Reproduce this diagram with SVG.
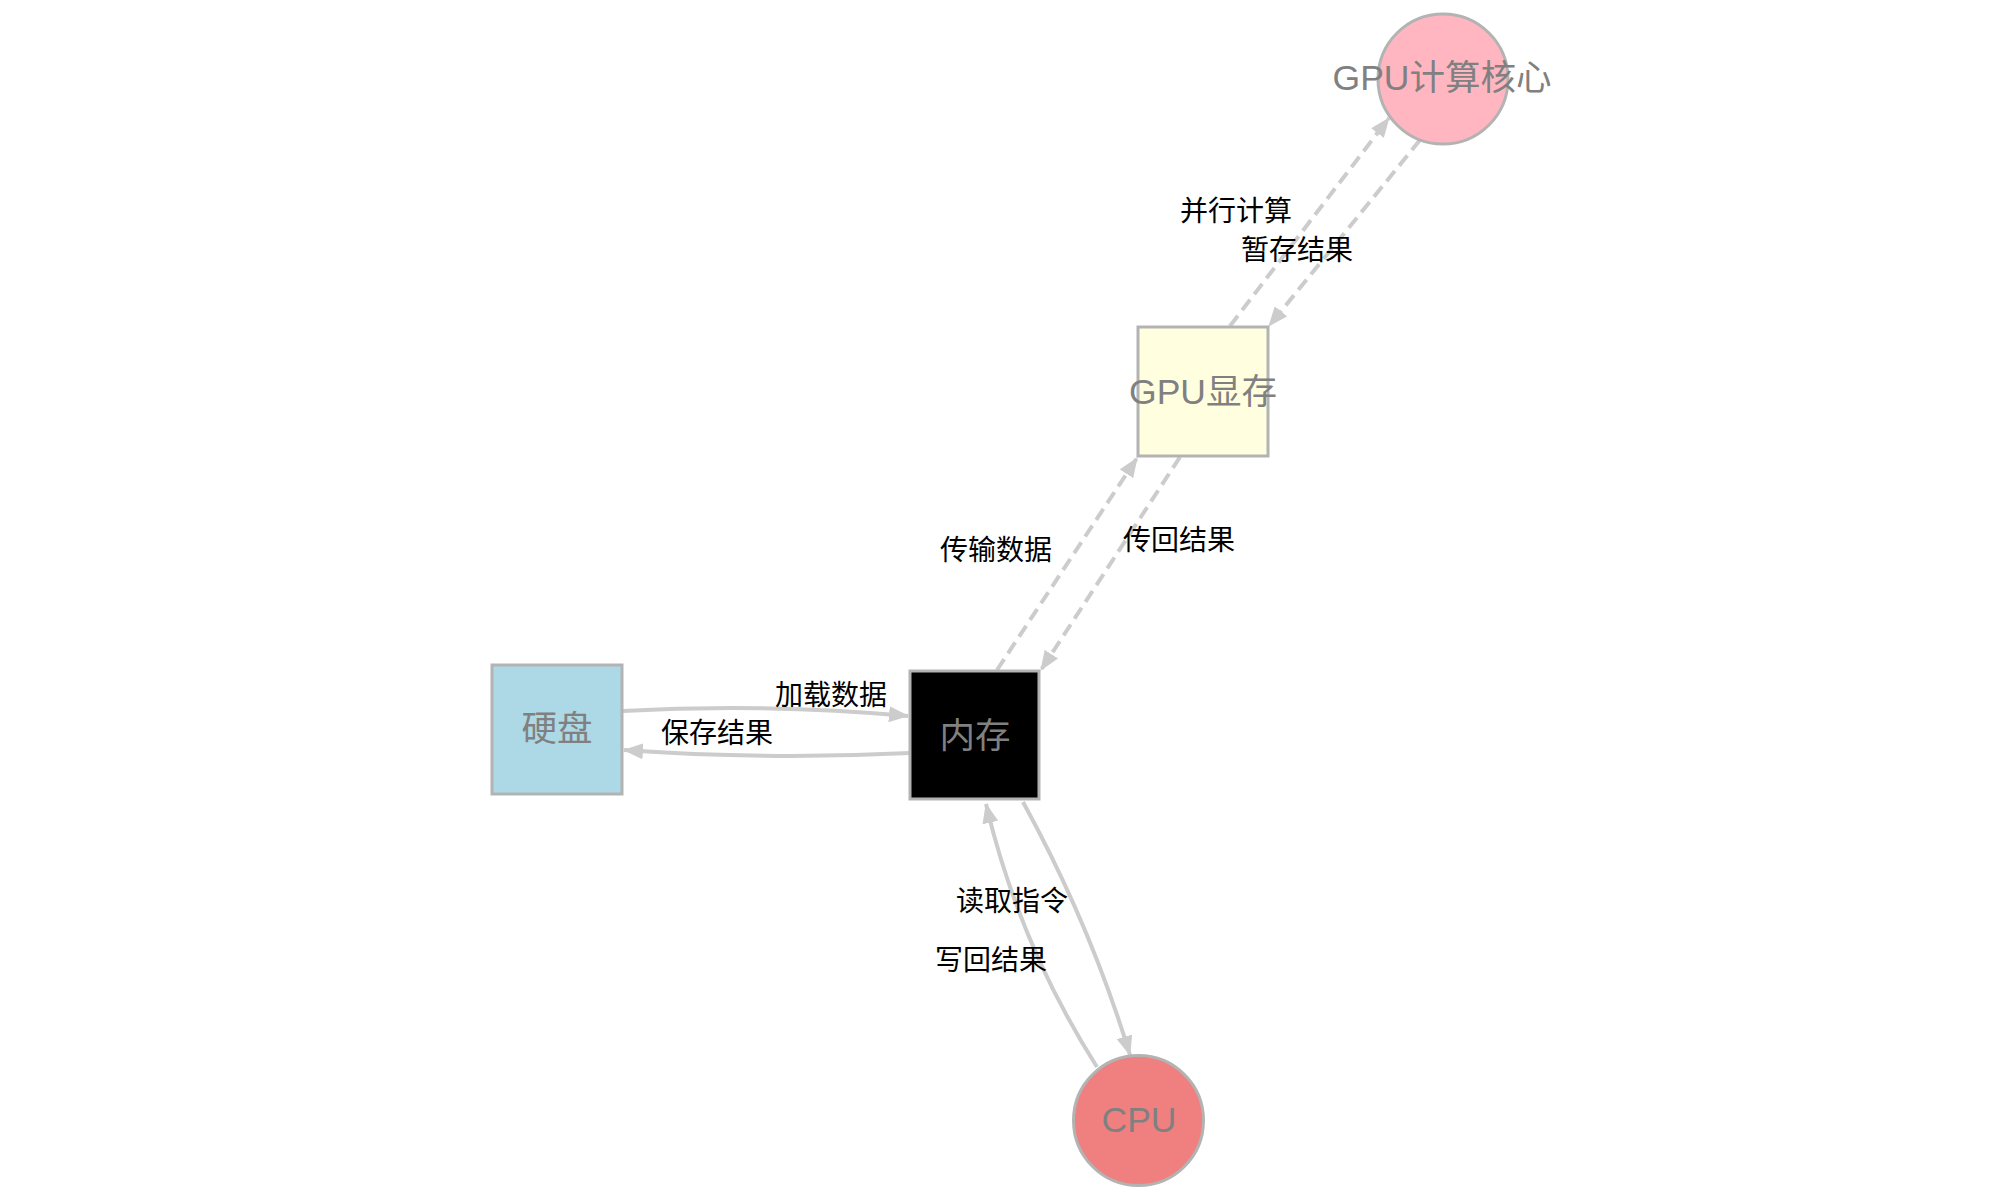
<svg xmlns="http://www.w3.org/2000/svg" width="2000" height="1200" viewBox="0 0 2000 1200">
<style>
.node{stroke:#b3b3b3;stroke-width:3}
.nlabel{font-family:"Liberation Sans","Noto Sans CJK SC",sans-serif;font-size:35.5px;fill:#808080;text-anchor:middle}
.elabel{font-family:"Liberation Sans","Noto Sans CJK SC",sans-serif;font-size:28px;fill:#000;text-anchor:middle}
.edge{fill:none;stroke:#cccccc;stroke-width:4}
.dash{stroke-dasharray:13,7}
</style>
<defs>
<marker id="arrow" viewBox="0 0 20 16" refX="19" refY="8" markerUnits="userSpaceOnUse" markerWidth="20" markerHeight="16" orient="auto">
<path d="M0,0 L20,8 L0,16 z" fill="#cccccc"/>
</marker>
</defs>
<rect width="2000" height="1200" fill="#ffffff"/>
<g id="connectors">
<path class="edge" d="M622,711 Q766,703 908,716" marker-end="url(#arrow)"/>
<path class="edge" d="M910,753 Q766,760 624,750" marker-end="url(#arrow)"/>
<path class="edge" d="M1023,802 Q1090,924 1130,1055" marker-end="url(#arrow)"/>
<path class="edge" d="M1097,1067 Q1019,944 986,804" marker-end="url(#arrow)"/>
<path class="edge dash" d="M997,670 L1137,458" marker-end="url(#arrow)"/>
<path class="edge dash" d="M1180,457 L1041,670" marker-end="url(#arrow)"/>
<path class="edge dash" d="M1230,326 L1389,118" marker-end="url(#arrow)"/>
<path class="edge dash" d="M1420,140 L1269,326" marker-end="url(#arrow)"/>
<text class="elabel" x="831" y="705">加载数据</text>
<text class="elabel" x="717" y="743">保存结果</text>
<text class="elabel" x="1012" y="911">读取指令</text>
<text class="elabel" x="991" y="970">写回结果</text>
<text class="elabel" x="996" y="560">传输数据</text>
<text class="elabel" x="1179" y="550">传回结果</text>
<text class="elabel" x="1236" y="221">并行计算</text>
<text class="elabel" x="1297" y="260">暂存结果</text>
</g>
<g id="node-gpu-core">
<circle class="node" cx="1443" cy="79" r="65" fill="#ffb6c1"/>
<text class="nlabel" x="1442" y="90">GPU计算核心</text>
</g>
<g id="node-gpu-mem">
<rect class="node" x="1138" y="327" width="130" height="129" fill="#ffffe0"/>
<text class="nlabel" x="1203" y="404">GPU显存</text>
</g>
<g id="node-disk">
<rect class="node" x="492" y="665" width="130" height="129" fill="#add8e6"/>
<text class="nlabel" x="557" y="741">硬盘</text>
</g>
<g id="node-memory">
<rect class="node" x="910" y="671" width="129" height="128" fill="#000000"/>
<text class="nlabel" x="975" y="748">内存</text>
</g>
<g id="node-cpu">
<circle class="node" cx="1138.5" cy="1120.5" r="65" fill="#f08080"/>
<text class="nlabel" x="1139" y="1132">CPU</text>
</g>
</svg>
